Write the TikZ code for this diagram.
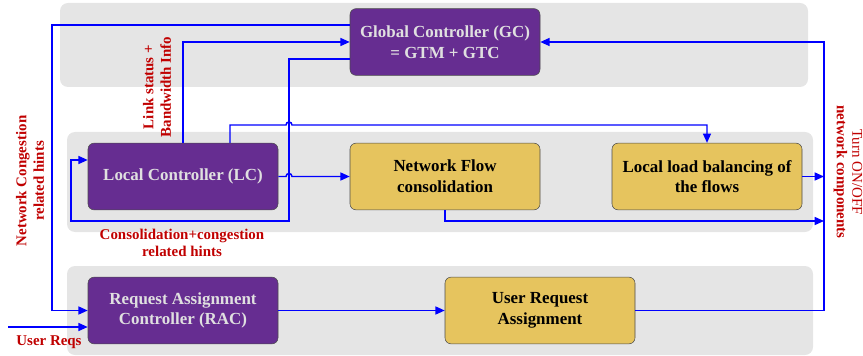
\documentclass[tikz,border=0pt]{standalone}
\usepackage{fontspec}
\setmainfont{Liberation Serif}
\usetikzlibrary{arrows.meta, positioning, calc}
\definecolor{ctrlPurple}{RGB}{102,45,145}
\definecolor{taskYellow}{RGB}{230,196,94}
\definecolor{laneGray}{gray}{0.9}
\definecolor{hintRed}{RGB}{192,0,0}

\begin{document}
\begin{tikzpicture}[x=0.75pt, y=-0.75pt, >={Triangle[length=7pt,width=6pt]},
    box/.style={draw=black!70, rounded corners=4.5pt, minimum width=142.5pt, minimum height=50pt,
        align=center, font=\bfseries\fontsize{12.7}{15.5}\selectfont},
    ctrl/.style={box, fill=ctrlPurple, text=white!88!black},
    task/.style={box, fill=taskYellow, text=black},
    flow/.style={blue, line width=1.1pt},
    hint/.style={hintRed, align=center, font=\bfseries\fontsize{11.2}{13}\selectfont}]
    \useasboundingbox (0,0) rectangle (863,356);

    % Lanes
    \fill[laneGray, rounded corners=6pt] (60,3) rectangle (808,87);
    \fill[laneGray, rounded corners=6pt] (67,132) rectangle (813,232);
    \fill[laneGray, rounded corners=6pt] (67,266) rectangle (813,355);

    % Blocks
    \node[ctrl] (gc) at (445,42) {Global Controller (GC)\\= GTM + GTC};
    \node[ctrl] (lc) at (183,176.5) {Local Controller (LC)};
    \node[task] (nf) at (445,176.5) {Network Flow\\consolidation};
    \node[task] (llb) at (707,176.5) {Local load balancing of\\the flows};
    \node[ctrl] (rac) at (183,310.5) {Request Assignment\\Controller (RAC)};
    \node[task] (ura) at (540,310.5) {User Request\\Assignment};

    % Rails
    \coordinate (railL) at (52,0);
    \coordinate (railR) at (824,0);
    \coordinate (loopR) at (289,0);
    \coordinate (loopL) at (71,0);
    \coordinate (reqIn) at (8,327);

    % Connectors
    \draw[flow, ->] ($(gc.west)+(0,-17)$) -| (railL |- rac.west) -- (rac.west);
    \draw[flow, ->] (lc.north) |- (gc.west);
    \draw[flow, ->] ($(gc.west)+(0,17)$) -| ($(loopR |- lc.south)+(0,11)$)
        -| ($(loopL |- lc.west)+(0,-16.5)$) -- ($(lc.west)+(0,-16.5)$);
    \draw[flow, ->] ($(lc.north)+(47,0)$) |- ($(loopR |- 0,125)+(-3,0)$)
        arc[start angle=180, end angle=0, radius=2.25pt] -| (llb.north);
    \draw[flow, ->] (lc.east) -- ($(lc.east -| loopR)+(-3,0)$)
        arc[start angle=180, end angle=0, radius=2.25pt] -- (nf.west);
    \draw[flow, ->] (nf.south) |- (railR |- 0,221);
    \draw[flow, ->] (llb.east) -- (llb.east -| railR);
    \draw[flow, ->] (ura.east) -| (railR |- gc.east) -- (gc.east);
    \draw[flow, ->] (rac.east) -- (ura.west);
    \draw[flow, ->] (reqIn) -- (reqIn -| rac.west);

    % Hints
    \node[hint, rotate=90] (linkHint) at (157,87) {Link status +\\Bandwidth Info};
    \node[hint, rotate=90] (netHint) at (30,181) {Network Congestion\\related hints};
    \node[hint] (consHint) at (182,243) {Consolidation+congestion\\related hints};
    \node[hint] (reqHint) at (49,342) {User Reqs};
    \node[hint, rotate=-90, font=\bfseries\fontsize{11.2}{11.5}\selectfont] (turnHint) at (848,172)
        {{\mdseries Turn ON/OFF}\\network components};
\end{tikzpicture}
\end{document}
